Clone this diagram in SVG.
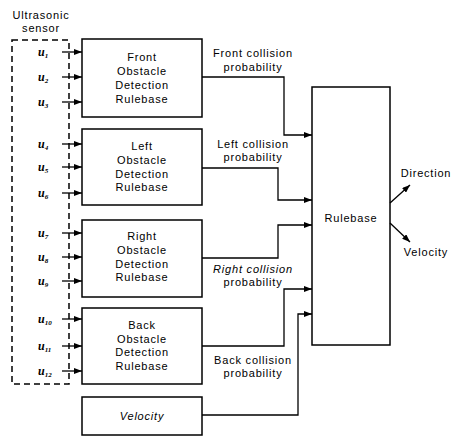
<svg xmlns="http://www.w3.org/2000/svg" width="457" height="438" viewBox="0 0 457 438">
<defs>
<marker id="ah" markerWidth="8" markerHeight="6" refX="8" refY="3" orient="auto" markerUnits="userSpaceOnUse">
<path d="M0,0 L8,3 L0,6 Z" fill="#000"/>
</marker>
<style>
.box{fill:#fff;stroke:#000;stroke-width:1.5}
.t{font-family:"Liberation Sans",Arial,sans-serif;font-size:11px;text-anchor:middle;fill:#000;letter-spacing:0.8px}
.i{font-style:italic}
.u{font-family:"Liberation Serif",serif;font-size:12px;font-style:italic;font-weight:bold;fill:#000}
.s{font-size:7px}
.c{fill:none;stroke:#000;stroke-width:1.3;marker-end:url(#ah)}
</style>
</defs>
<rect width="457" height="438" fill="#fff"/>
<g id="sensor">
<text class="t" x="41" y="19">Ultrasonic</text>
<text class="t" x="41" y="32">sensor</text>
<rect x="12" y="40" width="57" height="344" fill="none" stroke="#000" stroke-width="1.5" stroke-dasharray="6,4"/>
<text class="u" x="38" y="56">u<tspan class="s" dy="2">1</tspan></text>
<text class="u" x="38" y="81">u<tspan class="s" dy="2">2</tspan></text>
<text class="u" x="38" y="106">u<tspan class="s" dy="2">3</tspan></text>
<text class="u" x="38" y="148">u<tspan class="s" dy="2">4</tspan></text>
<text class="u" x="38" y="171">u<tspan class="s" dy="2">5</tspan></text>
<text class="u" x="38" y="197">u<tspan class="s" dy="2">6</tspan></text>
<text class="u" x="38" y="237">u<tspan class="s" dy="2">7</tspan></text>
<text class="u" x="38" y="261">u<tspan class="s" dy="2">8</tspan></text>
<text class="u" x="38" y="285">u<tspan class="s" dy="2">9</tspan></text>
<text class="u" x="38" y="323">u<tspan class="s" dy="2">10</tspan></text>
<text class="u" x="38" y="350">u<tspan class="s" dy="2">11</tspan></text>
<text class="u" x="38" y="375">u<tspan class="s" dy="2">12</tspan></text>
</g>
<g id="front">
<rect class="box" x="82" y="39" width="120" height="78"/>
<text class="t" x="142" y="61">Front</text>
<text class="t" x="142" y="75">Obstacle</text>
<text class="t" x="142" y="89">Detection</text>
<text class="t" x="142" y="103">Rulebase</text>
</g>
<g id="left">
<rect class="box" x="82" y="129" width="120" height="76"/>
<text class="t" x="142" y="150">Left</text>
<text class="t" x="142" y="164">Obstacle</text>
<text class="t" x="142" y="178">Detection</text>
<text class="t" x="142" y="191">Rulebase</text>
</g>
<g id="right">
<rect class="box" x="82" y="220" width="120" height="77"/>
<text class="t" x="142" y="240">Right</text>
<text class="t" x="142" y="254">Obstacle</text>
<text class="t" x="142" y="268">Detection</text>
<text class="t" x="142" y="281">Rulebase</text>
</g>
<g id="back">
<rect class="box" x="82" y="308" width="120" height="76"/>
<text class="t" x="142" y="329">Back</text>
<text class="t" x="142" y="343">Obstacle</text>
<text class="t" x="142" y="356">Detection</text>
<text class="t" x="142" y="370">Rulebase</text>
</g>
<g id="velocity">
<rect class="box" x="82" y="397" width="120" height="38"/>
<text class="t i" x="142" y="420">Velocity</text>
</g>
<g id="rulebase">
<rect class="box" x="312" y="87" width="78" height="258"/>
<text class="t" x="351" y="222">Rulebase</text>
</g>
<g id="outputs">
<text class="t" x="426" y="177">Direction</text>
<text class="t" x="426" y="256">Velocity</text>
</g>
<g id="connectors">
<path class="c" d="M62,52 H82"/>
<path class="c" d="M62,77 H82"/>
<path class="c" d="M62,102 H82"/>
<path class="c" d="M62,144 H82"/>
<path class="c" d="M62,167 H82"/>
<path class="c" d="M62,193 H82"/>
<path class="c" d="M62,233 H82"/>
<path class="c" d="M62,257 H82"/>
<path class="c" d="M62,281 H82"/>
<path class="c" d="M62,319 H82"/>
<path class="c" d="M62,346 H82"/>
<path class="c" d="M62,371 H82"/>
<path class="c" d="M202,77 H284 V135 H312"/>
<path class="c" d="M202,168 H278 V200 H312"/>
<path class="c" d="M202,258 H278 V225 H312"/>
<path class="c" d="M202,346 H284 V289 H312"/>
<path class="c" d="M202,415 H298 V314 H312"/>
<path class="c" d="M390,203 L410,185"/>
<path class="c" d="M390,223 L410,242"/>
<text class="t" x="253" y="57">Front collision</text>
<text class="t" x="253" y="71">probability</text>
<text class="t" x="253" y="148">Left collision</text>
<text class="t" x="253" y="161">probability</text>
<text class="t i" x="253" y="273">Right collision</text>
<text class="t" x="253" y="286">probability</text>
<text class="t" x="253" y="364">Back collision</text>
<text class="t" x="253" y="377">probability</text>
</g>
</svg>
